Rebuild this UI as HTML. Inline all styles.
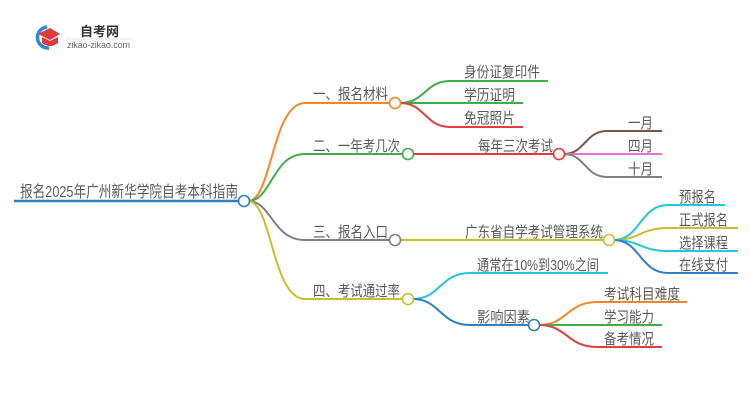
<!DOCTYPE html>
<html><head><meta charset="utf-8"><style>
html,body{margin:0;padding:0;background:#fff;width:750px;height:410px;overflow:hidden}
svg{display:block}
text{font-family:"Liberation Sans","Noto Sans CJK SC",sans-serif;font-size:15px;fill:#5a5a5a}
</style></head><body>
<svg width="750" height="410" viewBox="0 0 750 410" xmlns="http://www.w3.org/2000/svg">
<!-- logo -->
<path d="M47 27 A10.5 10.5 0 1 0 49 48" fill="none" stroke="#2d8ad6" stroke-width="3.5"/>
<path d="M38 34 L50 28 L60 34 L50 40 Z" fill="#e03a3a"/>
<path d="M42 37 L42 43 Q50 49 58 43 L58 37 L50 41 Z" fill="#e03a3a"/>
<text x="80" y="36" style="font-size:13px;font-weight:bold;fill:#333">自考网</text>
<line x1="66" y1="39" x2="132" y2="39" stroke="#ddd" stroke-width="0.8"/>
<text x="67" y="48" textLength="63" style="font-size:9px;fill:#666">zikao-zikao.com</text>

<g fill="none" stroke-width="2">
<line x1="14" y1="201" x2="243" y2="201" stroke="#2f7fc1" stroke-width="2.5"/>
<path d="M248 201 C 272 201, 272 103, 305 103 L390 103" stroke="#f5892a"/>
<path d="M400 103 C 425 103, 425 81, 450 81 L548 81" stroke="#3fae49"/>
<path d="M400 103 L523 103" stroke="#3fae49"/>
<path d="M400 103 C 425 103, 425 127, 450 127 L523 127" stroke="#e04040"/>
<path d="M248 201 C 272 201, 272 154, 305 154 L403 154" stroke="#3fae49"/>
<path d="M413 154 L554 154" stroke="#e53935"/>
<path d="M564 154 C 585 154, 585 131, 607 131 L662 131" stroke="#795548"/>
<path d="M564 154 L662 154" stroke="#ef6fd0"/>
<path d="M564 154 C 585 154, 585 177, 607 177 L662 177" stroke="#808080"/>
<path d="M248 201 C 272 201, 272 240, 305 240 L390 240" stroke="#808080"/>
<path d="M400 240 L604 240" stroke="#c5c12e"/>
<path d="M614 240 C 640 240, 640 205, 668 205 L725 205" stroke="#26c6da"/>
<path d="M614 240 C 640 240, 640 228, 668 228 L738 228" stroke="#c5c12e"/>
<path d="M614 240 C 640 240, 640 251, 668 251 L738 251" stroke="#26c6da"/>
<path d="M614 240 C 640 240, 640 273, 668 273 L738 273" stroke="#2f7fc1"/>
<path d="M248 201 C 272 201, 272 299, 305 299 L403 299" stroke="#c5c12e"/>
<path d="M413 299 C 440 299, 440 273, 470 273 L608 273" stroke="#26c6da"/>
<path d="M413 299 C 440 299, 440 325, 470 325 L529 325" stroke="#2f7fc1"/>
<path d="M539 325 C 567 325, 567 302, 597 302 L687 302" stroke="#f5892a"/>
<path d="M539 325 L662 325" stroke="#3fae49"/>
<path d="M539 325 C 567 325, 567 347, 597 347 L662 347" stroke="#e04040"/>
</g>
<g fill="#fff" stroke-width="1.6">
<circle cx="244" cy="201" r="5.5" stroke="#2f7fc1"/>
<circle cx="395" cy="103" r="5.5" stroke="#f5892a"/>
<circle cx="408" cy="154" r="5.5" stroke="#3fae49"/>
<circle cx="559" cy="154" r="5.5" stroke="#e53935"/>
<circle cx="395" cy="240" r="5.5" stroke="#808080"/>
<circle cx="609" cy="240" r="5.5" stroke="#c5c12e"/>
<circle cx="408" cy="299" r="5.5" stroke="#c5c12e"/>
<circle cx="534" cy="325" r="5.5" stroke="#2f7fc1"/>
</g>
<text x="20" y="197" textLength="218" lengthAdjust="spacingAndGlyphs" style="font-size:16px">报名2025年广州新华学院自考本科指南</text>
<text x="313" y="99" textLength="75" lengthAdjust="spacingAndGlyphs">一、报名材料</text>
<text x="464" y="77" textLength="76" lengthAdjust="spacingAndGlyphs">身份证复印件</text>
<text x="464" y="100" textLength="51" lengthAdjust="spacingAndGlyphs">学历证明</text>
<text x="464" y="123" textLength="51" lengthAdjust="spacingAndGlyphs">免冠照片</text>
<text x="313" y="151" textLength="87" lengthAdjust="spacingAndGlyphs">二、一年考几次</text>
<text x="478" y="151" textLength="75" lengthAdjust="spacingAndGlyphs">每年三次考试</text>
<text x="628" y="128" textLength="25" lengthAdjust="spacingAndGlyphs">一月</text>
<text x="628" y="151" textLength="25" lengthAdjust="spacingAndGlyphs">四月</text>
<text x="628" y="174" textLength="25" lengthAdjust="spacingAndGlyphs">十月</text>
<text x="313" y="237" textLength="75" lengthAdjust="spacingAndGlyphs">三、报名入口</text>
<text x="465" y="237" textLength="138" lengthAdjust="spacingAndGlyphs">广东省自学考试管理系统</text>
<text x="679" y="202" textLength="37" lengthAdjust="spacingAndGlyphs">预报名</text>
<text x="679" y="225" textLength="49" lengthAdjust="spacingAndGlyphs">正式报名</text>
<text x="679" y="248" textLength="49" lengthAdjust="spacingAndGlyphs">选择课程</text>
<text x="679" y="270" textLength="49" lengthAdjust="spacingAndGlyphs">在线支付</text>
<text x="313" y="296" textLength="87" lengthAdjust="spacingAndGlyphs">四、考试通过率</text>
<text x="477" y="270" textLength="122" lengthAdjust="spacingAndGlyphs">通常在10%到30%之间</text>
<text x="477" y="322" textLength="53" lengthAdjust="spacingAndGlyphs">影响因素</text>
<text x="604" y="299" textLength="76" lengthAdjust="spacingAndGlyphs">考试科目难度</text>
<text x="604" y="322" textLength="50" lengthAdjust="spacingAndGlyphs">学习能力</text>
<text x="604" y="344" textLength="50" lengthAdjust="spacingAndGlyphs">备考情况</text>
</svg>
</body></html>
